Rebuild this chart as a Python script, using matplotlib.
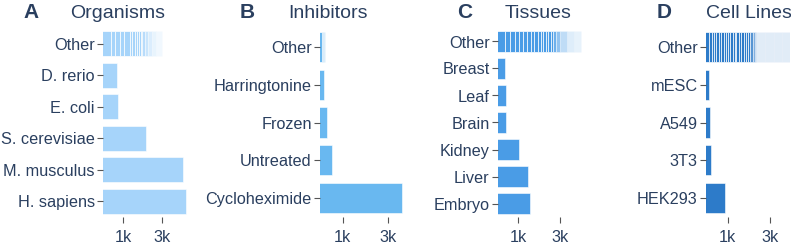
import numpy as np
import matplotlib.pyplot as plt
from matplotlib.ticker import FixedLocator, NullLocator

plt.rcParams['font.family'] = ['Liberation Sans', 'DejaVu Sans']
TEXT = '#2a3f5f'

# values, bars listed bottom to top, "Other" is the stacked top bar
organisms = ['H. sapiens', 'M. musculus', 'S. cerevisiae', 'E. coli', 'D. rerio']
organism_counts = [5740, 5370, 1910, 861, 847]
organism_other = [723, 91, 96, 127, 187, 81, 90, 80, 84, 89, 75, 135, 158, 220, 282, 432]

inhibitors = ['Cycloheximide', 'Untreated', 'Frozen', 'Harringtonine']
inhibitor_counts = [4250, 770, 677, 629]
inhibitor_other = [605, 13, 15, 16]

tissues = ['Embryo', 'Liver', 'Kidney', 'Brain', 'Leaf', 'Breast']
tissue_counts = [1360, 1270, 1016, 727, 720, 702]
tissue_other = [696, 99, 112, 101, 121, 126, 129, 126, 141, 137, 126, 126, 145, 143,
                165, 162, 320, 574, 751, 880]

cell_lines = ['HEK293', '3T3', 'A549', 'mESC']
cell_line_counts = [926, 644, 627, 617]
cell_line_other = [610, 57, 36, 42, 48, 55, 54, 48, 58, 61, 77, 50, 52, 90, 82, 91, 80,
                   97, 103, 127, 87, 85, 510, 700, 800, 890]

tick_vals = [1000, 3000]
tick_labels = ['1k', '3k']

panels = [
    ('A', 'Organisms', organisms, organism_counts, organism_other),
    ('B', 'Inhibitors', inhibitors, inhibitor_counts, inhibitor_other),
    ('C', 'Tissues', tissues, tissue_counts, tissue_other),
    ('D', 'Cell Lines', cell_lines, cell_line_counts, cell_line_other),
]

# styling / layout
colors = ['#a6d4fa', '#69b8f0', '#4a9ce6', '#2d7bc9']
fades = [[0.8, 0.6, 0.4, 0.25, 0.15],
         [0.6, 0.45, 0.3],
         [0.8, 0.6, 0.35, 0.18, 0.13],
         [0.8, 0.6, 0.4, 0.14, 0.14, 0.14, 0.14]]
xlims = [(575, 5950), (575, 4470), (583, 5320), (571, 4990)]
ax_left = [103, 320, 498, 706]
letter_x = [23, 240, 457, 657]
title_x = [70, 288, 505, 706]

W, H = 791, 243
fig = plt.figure(figsize=(W / 100, H / 100), dpi=100)

for i, (letter, title, cats, counts, other) in enumerate(panels):
    ax = fig.add_axes([ax_left[i] / W, 1 - 217 / H, 84 / W, 189 / H])
    ax.set_xscale('log')
    labels = cats + ['Other']
    y = np.arange(len(labels))
    ax.barh(y[:-1], counts, height=0.8, color=colors[i], edgecolor='white', linewidth=0.4)

    alphas = np.ones(len(other))
    alphas[-len(fades[i]):] = fades[i]
    left = 0
    for seg, a in zip(other, alphas):
        ax.barh(y[-1], seg, left=left, height=0.8, color=colors[i], alpha=a,
                edgecolor='white', linewidth=0.5)
        left += seg

    ax.set_xlim(*xlims[i])
    ax.set_ylim(-0.5, len(labels) - 0.5)
    ax.set_yticks(y)
    ax.set_yticklabels(labels)
    ax.xaxis.set_major_locator(FixedLocator(tick_vals))
    ax.xaxis.set_minor_locator(NullLocator())
    ax.set_xticklabels(tick_labels)
    for s in ax.spines.values():
        s.set_visible(False)
    ax.tick_params(axis='y', length=4, width=0.8, color='#555555', pad=2,
                   labelsize=11.7, labelcolor=TEXT)
    ax.tick_params(axis='x', length=4, width=0.8, color='#555555', pad=5,
                   labelsize=11.7, labelcolor=TEXT)

    fig.text(letter_x[i] / W, 1 - 13 / H, letter, fontsize=15, fontweight='bold',
             color=TEXT, ha='left', va='center')
    fig.text(title_x[i] / W, 1 - 13 / H, title, fontsize=14, color=TEXT,
             ha='left', va='center')

fig.savefig('out.png', dpi=100)
